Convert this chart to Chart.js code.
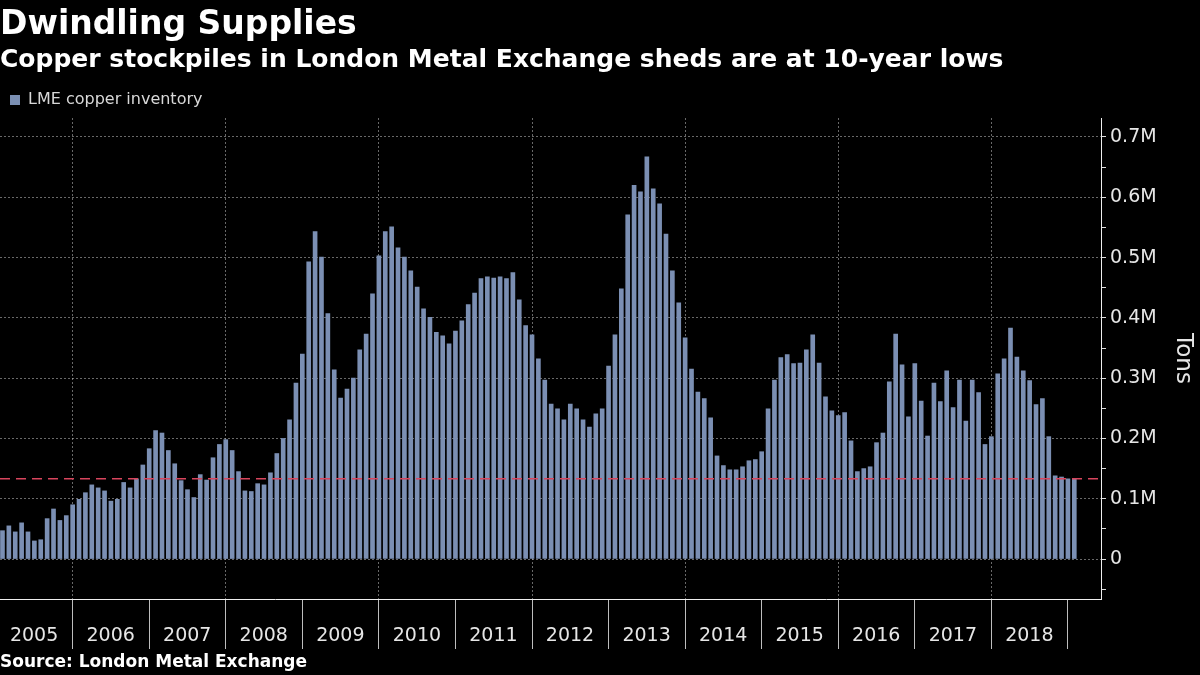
<!DOCTYPE html>
<html>
<head>
<meta charset="utf-8">
<title>Dwindling Supplies</title>
<script src="https://cdn.jsdelivr.net/npm/chart.js@4.4.1/dist/chart.umd.min.js"></script>
<style>
  html, body { margin: 0; padding: 0; background: #000; }
  #wrap { width: 1200px; height: 675px; }
</style>
</head>
<body>
<div id="wrap"><canvas id="myChart"></canvas></div>
<script>
// year boundaries on the x axis (last one has no label)
const years = [2005, 2006, 2007, 2008, 2009, 2010, 2011, 2012, 2013, 2014, 2015, 2016, 2017, 2018, 2019];

// LME copper inventory, thousand tons, month-end, Jan 2005 .. Jan 2019
const inventory = [
    47, 55, 45, 60, 45, 30, 32, 67, 83, 64, 72, 90,           // 2005
    99, 110, 123, 118, 113, 96, 99, 127, 118, 133, 156, 183,  // 2006
    213, 209, 180, 158, 130, 115, 102, 140, 131, 168, 190, 198,
    180, 145, 113, 112, 125, 123, 143, 175, 200, 231, 292, 340,
    493, 543, 501, 407, 314, 267, 282, 300, 347, 373, 440, 503,
    543, 551, 516, 501, 478, 451, 415, 401, 376, 370, 357, 378,
    395, 422, 441, 465, 468, 466, 468, 465, 475, 430, 387, 372,
    332, 297, 257, 249, 231, 257, 249, 231, 219, 241, 249, 320,
    372, 448, 571, 620, 609, 667, 614, 589, 539, 478, 425, 367,
    315, 277, 266, 234, 171, 155, 148, 148, 153, 163, 165, 178,
    249, 297, 334, 339, 324, 325, 347, 372, 325, 269, 246, 238,
    243, 196, 145, 150, 153, 193, 209, 294, 373, 322, 236, 324,
    262, 204, 292, 261, 312, 251, 297, 229, 297, 276, 190, 203,
    307, 332, 383, 335, 312, 296, 256, 266, 203, 138, 136, 133, // 2018
    133                                                         // Jan 2019
];

// y ticks in thousand tons (labels only every 100)
const yTicks = [-50, 0, 50, 100, 150, 200, 250, 300, 350, 400, 450, 500, 550, 600, 650, 700];

const startYear = years[0];
const monthX = inventory.map((v, i) => startYear + (i + 1) / 12);
const latest = inventory[inventory.length - 1];

const xMin = 2005.051, xMax = 2019.432;
const gridColor = 'rgba(190,190,190,0.55)';
const barColor = '#7b8fb3';

Chart.defaults.font.family = '"DejaVu Sans", sans-serif';
Chart.defaults.color = '#e6e6e6';

const data = {
    datasets: [{
        type: 'line',
        label: 'latest',
        data: [{x: xMin, y: latest}, {x: xMax, y: latest}],
        borderColor: '#d8455d',
        borderWidth: 1.5,
        borderDash: [10, 6],
        pointRadius: 0,
        order: 0,
    }, {
        label: 'LME copper inventory',
        data: monthX.map((x, i) => ({x: x, y: inventory[i]})),
        backgroundColor: barColor,
        barThickness: 4,
        order: 1,
    }]
};

const config = {
    type: 'bar',
    data: data,
    options: {
        responsive: true,
        maintainAspectRatio: false,
        animation: false,
        layout: { padding: 0 },
        plugins: {
            title: {
                display: true,
                text: 'Dwindling Supplies',
                align: 'start',
                color: '#fff',
                font: { size: 33, weight: 'bold', lineHeight: 1 },
                padding: { top: 9, bottom: 4 },
            },
            subtitle: {
                display: true,
                text: 'Copper stockpiles in London Metal Exchange sheds are at 10-year lows',
                align: 'start',
                color: '#fff',
                font: { size: 25, weight: 'bold', lineHeight: 1 },
                padding: { top: 2, bottom: 9 },
            },
            legend: {
                align: 'start',
                labels: {
                    filter: item => item.text !== 'latest',
                    boxWidth: 10,
                    boxHeight: 10,
                    padding: 10,
                    color: '#d8d8d8',
                    font: { size: 16 },
                }
            },
            tooltip: { enabled: false }
        },
        scales: {
            x: {
                type: 'linear',
                min: xMin,
                max: xMax,
                offset: false,
                afterBuildTicks: axis => { axis.ticks = years.map(v => ({value: v})); },
                afterFit: axis => { axis.height = 76; axis.paddingLeft = 0; axis.paddingRight = 0; },
                grid: {
                    offset: false,
                    color: ctx => (ctx.tick && ctx.tick.value % 2 === 0) ? gridColor : 'rgba(0,0,0,0)',
                    tickColor: '#bdbdbd',
                    tickLength: 50,
                },
                border: { color: '#eee', width: 1, dash: [2, 2] },
                ticks: {
                    autoSkip: false,
                    maxRotation: 0,
                    labelOffset: 38,
                    padding: -24,
                    font: { size: 19 },
                    callback: v => v < 2019 ? String(v) : '',
                },
                title: {
                    display: true,
                    text: 'Source: London Metal Exchange',
                    align: 'start',
                    color: '#fff',
                    font: { size: 17, weight: 'bold' },
                    padding: { top: 0, bottom: 2 },
                }
            },
            y: {
                position: 'right',
                min: -66.3,
                max: 731.5,
                afterBuildTicks: axis => { axis.ticks = yTicks.map(v => ({value: v})); },
                afterFit: axis => { axis.width = 99; },
                grid: {
                    color: ctx => (ctx.tick && ctx.tick.value % 100 === 0) ? gridColor : 'rgba(0,0,0,0)',
                    tickColor: '#ddd',
                    tickLength: 5,
                },
                border: { color: '#eee', width: 1, dash: [2, 2] },
                ticks: {
                    padding: 4,
                    font: { size: 19 },
                    callback: v => v % 100 === 0 ? (v === 0 ? '0' : (v / 1000).toFixed(1) + 'M') : '',
                },
                title: {
                    display: true,
                    text: 'Tons',
                    font: { size: 23 },
                    padding: { top: 3, bottom: 0 },
                }
            }
        }
    }
};

const myChart = new Chart(document.getElementById('myChart'), config);
</script>
</body>
</html>
